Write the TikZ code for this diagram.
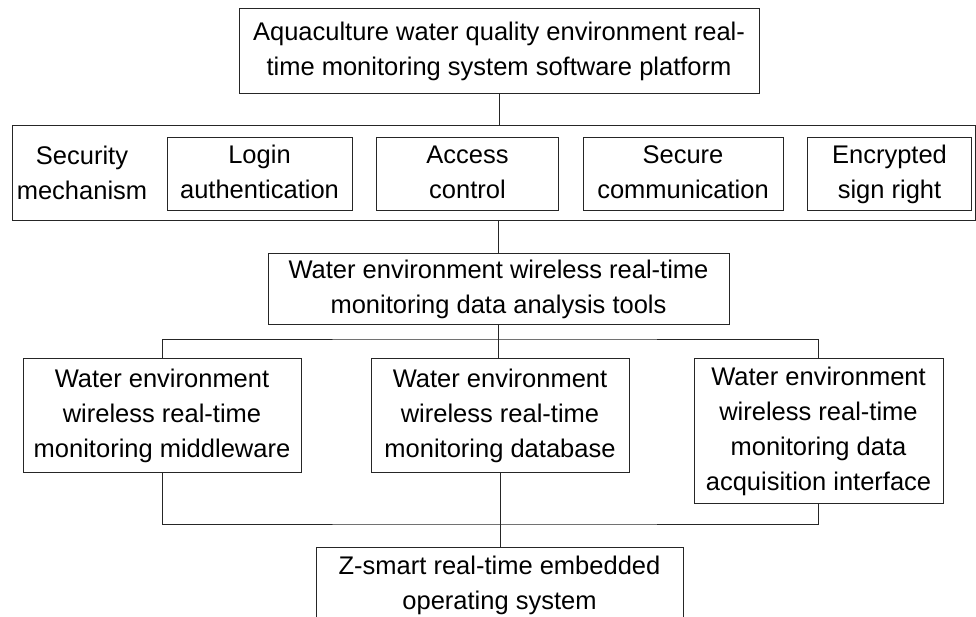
\documentclass[tikz,border=0pt]{standalone}
\usepackage{fontspec}
\setmainfont{Liberation Sans}
\usetikzlibrary{positioning}
\newcommand{\topstrut}{\rule{0pt}{35pt}}
\newcommand{\botstrut}{\rule[-5pt]{0pt}{5pt}}

\begin{document}
\begin{tikzpicture}[x=1pt,y=-1pt, node distance=23.5pt,
  txt/.style={font=\fontsize{25.5}{35}\selectfont, align=center, inner sep=0pt,
    execute at begin node=\topstrut, execute at end node=\botstrut},
  box/.style={txt, draw=black!85, line width=1pt},
  secbox/.style={box, minimum height=73pt},
  link/.style={draw=black!85, line width=1pt}]
  \useasboundingbox (0,0) rectangle (976,617);
  \node[box, minimum width=520pt, minimum height=85pt] (plat) at (499,51.5) {Aquaculture water quality environment real-\\time monitoring system software platform};
  % security row
  \node[draw=black!85, line width=1pt, minimum width=963pt, minimum height=95pt] (sec) at (493.5,173.5) {};
  \node[txt] (secl) at (82,175) {Security\\mechanism};
  \node[secbox, minimum width=185pt] (login) at (259.5,174.5) {Login\\authentication};
  \node[secbox, minimum width=182pt, right=of login] (access) {Access\\control};
  \node[secbox, minimum width=200pt, right=of access] (secure) {Secure\\communication};
  \node[secbox, minimum width=164pt, right=of secure] (encr) {Encrypted\\sign right};
  \node[box, minimum width=461pt, minimum height=70pt] (tools) at (498.5,289) {Water environment wireless real-time\\monitoring data analysis tools};
  % bottom row
  \node[box, anchor=north, minimum width=278pt, minimum height=114pt] (mw) at (162,358) {Water environment\\wireless real-time\\monitoring middleware};
  \node[box, anchor=north, minimum width=258pt, minimum height=114pt] (db) at (500,358) {Water environment\\wireless real-time\\monitoring database};
  \node[box, anchor=north, minimum width=249pt, minimum height=145pt] (acq) at (818.5,358) {Water environment\\wireless real-time\\monitoring data\\acquisition interface};
  \node[box, anchor=north, minimum width=367pt, minimum height=75pt] (os) at (499.5,547) {Z-smart real-time embedded\\operating system};
  \coordinate (bus1) at (499,339);
  \coordinate (bus2) at (499,524);
  \draw[link] (plat.south) -- (plat.south |- sec.north);
  \draw[link] (tools.north |- sec.south) -- (tools.north);
  \draw[link] (tools.south) -- (tools.south |- db.north);
  \foreach \a/\b in {north/bus1, south/bus2} {\draw[link] (mw.\a) |- (\b) -| (acq.\a);}
  \draw[link] (db.south) -- (db.south |- os.north);
\end{tikzpicture}
\end{document}
